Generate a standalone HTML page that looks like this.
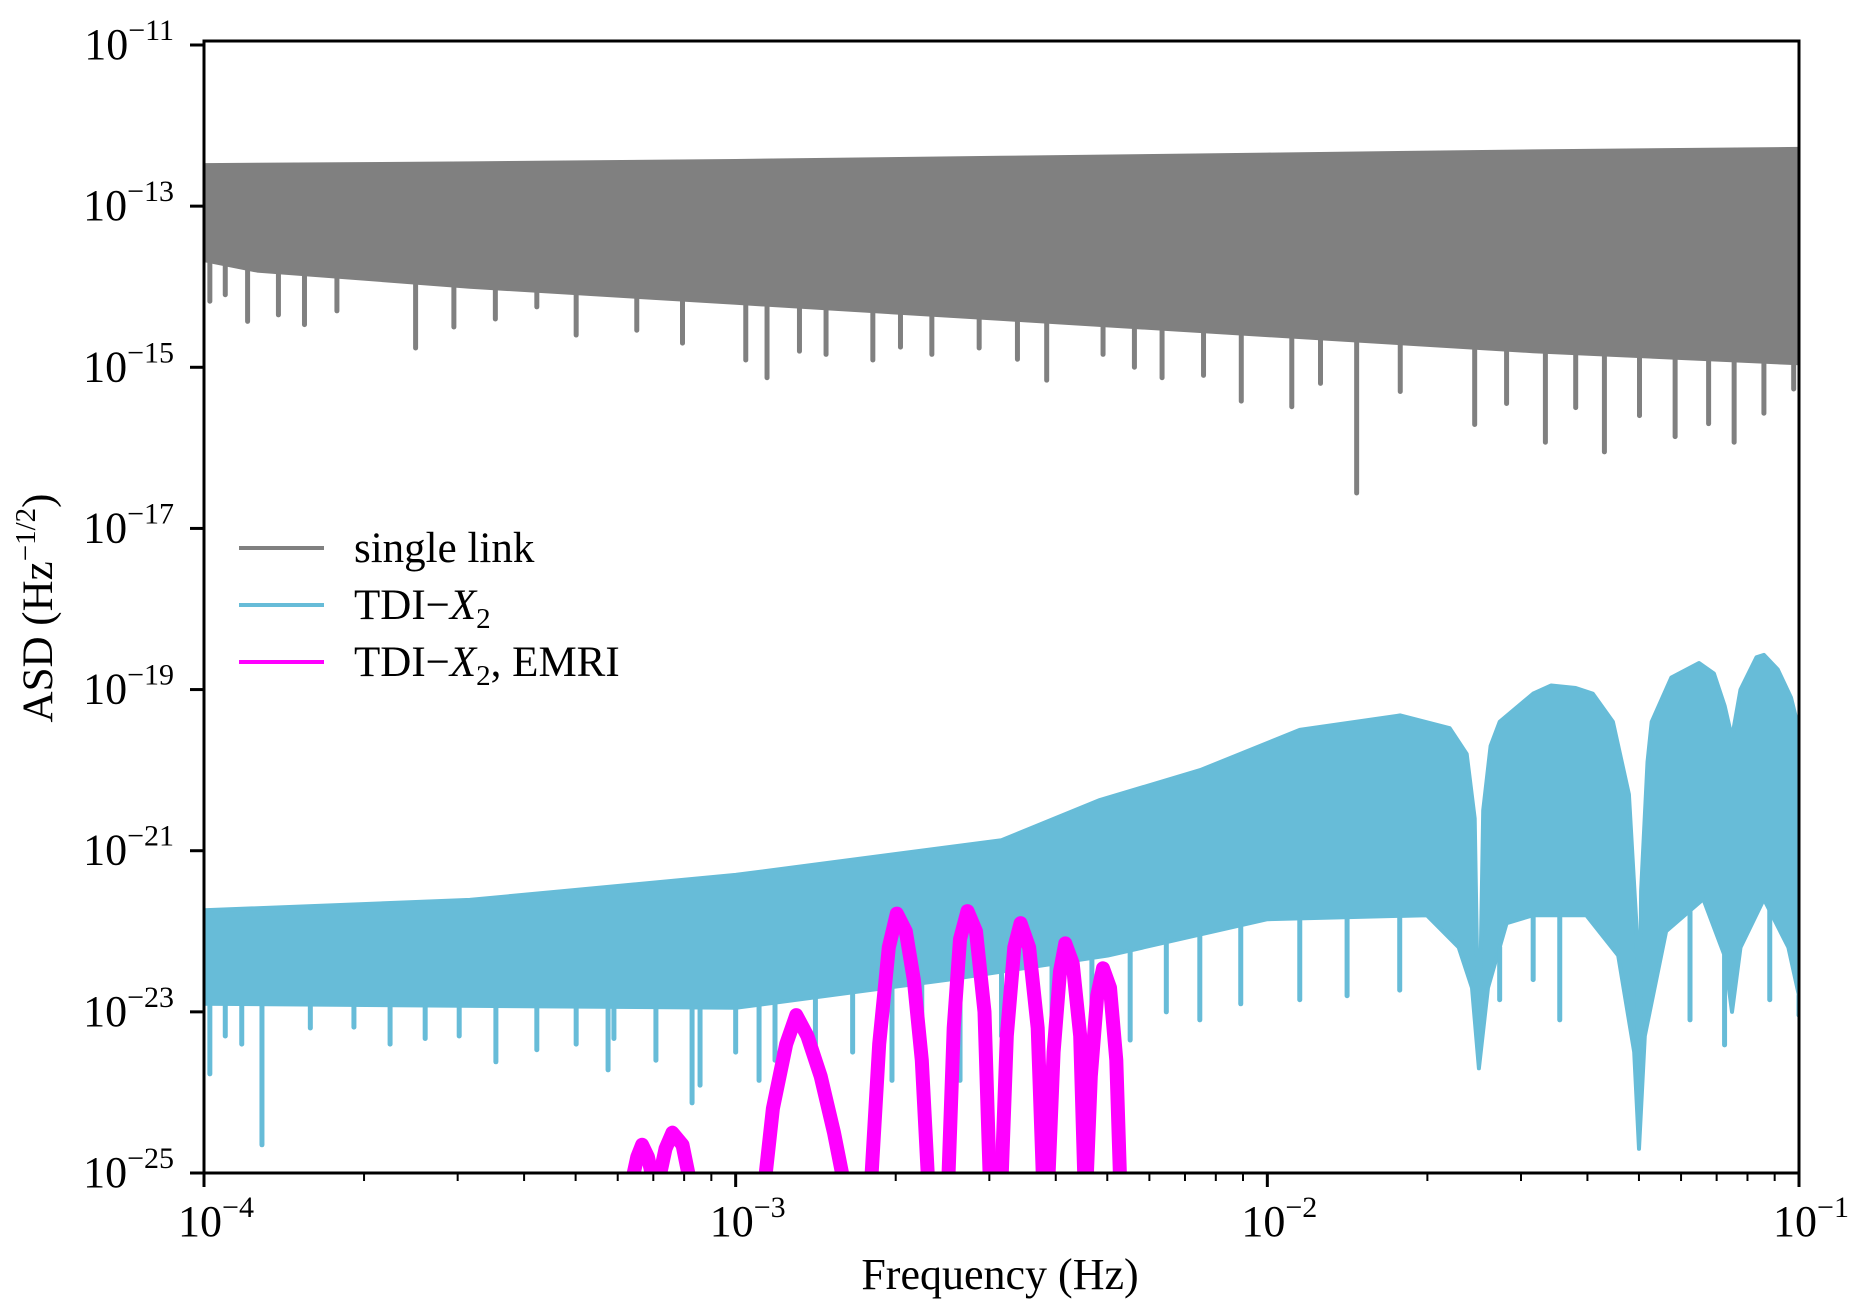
<!DOCTYPE html>
<html><head><meta charset="utf-8">
<style>
html,body{margin:0;padding:0;background:#fff;}
svg text{font-family:"Liberation Serif","DejaVu Serif",serif;fill:#000;}
</style></head>
<body>
<svg id="chart" width="1850" height="1308" viewBox="0 0 1850 1308" xmlns="http://www.w3.org/2000/svg">
<g id="plot"></g>
<g id="axes"></g>
</svg>
<script>
// ---- data (log10 frequency, log10 ASD) ----
const grayTopF = [-4, -3.5, -3, -2.5, -2, -1.5, -1];
const grayTopA = [-12.49, -12.47, -12.44, -12.4, -12.36, -12.32, -12.29];
const grayLowF = [-4, -3.9, -3.5, -3, -2.5, -2, -1.5, -1];
const grayLowA = [-13.67, -13.8, -14.0, -14.2, -14.4, -14.6, -14.8, -14.95];
const graySpikeF = [-3.989,-3.96,-3.918,-3.86,-3.811,-3.75,-3.602,-3.53,-3.452,-3.374,-3.3,-3.186,-3.1,-2.981,-2.941,-2.88,-2.83,-2.742,-2.69,-2.631,-2.542,-2.47,-2.415,-2.309,-2.25,-2.198,-2.12,-2.049,-1.954,-1.9,-1.832,-1.75,-1.61,-1.55,-1.477,-1.42,-1.366,-1.3,-1.233,-1.17,-1.122,-1.066,-1.01];
const graySpikeA = [-14.18,-14.1,-14.43,-14.35,-14.47,-14.3,-14.76,-14.5,-14.4,-14.25,-14.6,-14.54,-14.7,-14.91,-15.13,-14.8,-14.84,-14.91,-14.75,-14.84,-14.76,-14.9,-15.16,-14.84,-15.0,-15.13,-15.1,-15.42,-15.49,-15.2,-16.56,-15.3,-15.71,-15.45,-15.93,-15.5,-16.05,-15.6,-15.86,-15.7,-15.93,-15.57,-15.27];

const cyanTopF = [-4,-3.5,-3,-2.5,-2.315,-2.126,-1.939,-1.75,-1.657,-1.625,-1.61,-1.602,-1.594,-1.58,-1.563,-1.5,-1.466,-1.42,-1.388,-1.35,-1.32,-1.305,-1.301,-1.297,-1.285,-1.277,-1.24,-1.188,-1.16,-1.14,-1.126,-1.11,-1.08,-1.066,-1.04,-1.015,-1.0];
const cyanTopA = [-21.74,-21.61,-21.3,-20.87,-20.37,-20.0,-19.5,-19.32,-19.48,-19.8,-20.6,-23.7,-20.5,-19.7,-19.4,-19.05,-18.95,-18.98,-19.05,-19.4,-20.3,-22.0,-24.7,-21.5,-19.9,-19.4,-18.85,-18.67,-18.8,-19.2,-19.6,-19.0,-18.6,-18.57,-18.75,-19.1,-19.5];
const cyanLowF = [-4,-3,-2.6,-2.3,-2,-1.7,-1.64,-1.615,-1.602,-1.585,-1.55,-1.5,-1.4,-1.34,-1.31,-1.301,-1.29,-1.25,-1.18,-1.14,-1.126,-1.11,-1.066,-1.02,-1.0];
const cyanLowA = [-22.9,-22.95,-22.6,-22.3,-21.85,-21.8,-22.2,-22.7,-23.7,-22.7,-21.9,-21.8,-21.8,-22.3,-23.5,-24.7,-23.3,-22.0,-21.6,-22.3,-23.0,-22.2,-21.6,-22.2,-22.8];
const cyanSpikeF = [-3.989,-3.96,-3.929,-3.891,-3.8,-3.718,-3.65,-3.584,-3.52,-3.451,-3.374,-3.3,-3.24,-3.229,-3.15,-3.082,-3.067,-3.0,-2.956,-2.926,-2.85,-2.78,-2.706,-2.65,-2.578,-2.5,-2.405,-2.33,-2.258,-2.19,-2.127,-2.05,-1.939,-1.85,-1.751,-1.563,-1.5,-1.45,-1.205,-1.14,-1.055,-1.0];
const cyanSpikeA = [-23.77,-23.3,-23.4,-24.65,-23.2,-23.19,-23.4,-23.33,-23.3,-23.62,-23.47,-23.4,-23.72,-23.33,-23.6,-24.13,-23.91,-23.5,-23.85,-23.6,-23.4,-23.5,-23.85,-23.3,-23.85,-23.3,-23.85,-23.2,-23.35,-23.0,-23.1,-22.9,-22.85,-22.8,-22.73,-22.85,-22.6,-23.1,-23.1,-23.41,-22.85,-23.04];

// EMRI lumps
const emriF = [
  [-3.195,-3.185,-3.176,-3.165,-3.155],
  [-3.145,-3.132,-3.119,-3.1,-3.086],
  [-2.945,-2.93,-2.905,-2.886,-2.865,-2.84,-2.815,-2.797],
  [-2.745,-2.73,-2.712,-2.697,-2.68,-2.665,-2.65,-2.638],
  [-2.6,-2.59,-2.578,-2.564,-2.548,-2.532,-2.522],
  [-2.5,-2.49,-2.476,-2.464,-2.448,-2.432,-2.422],
  [-2.412,-2.402,-2.39,-2.38,-2.366,-2.352,-2.344],
  [-2.34,-2.332,-2.32,-2.309,-2.296,-2.284,-2.277]
];
const emriA = [
  [-25.1,-24.8,-24.65,-24.8,-25.1],
  [-25.1,-24.7,-24.5,-24.65,-25.1],
  [-25.1,-24.2,-23.4,-23.04,-23.3,-23.8,-24.5,-25.1],
  [-25.1,-23.4,-22.2,-21.78,-22.0,-22.6,-23.6,-25.1],
  [-25.1,-23.2,-22.1,-21.75,-22.0,-23.0,-25.1],
  [-25.1,-23.3,-22.2,-21.9,-22.2,-23.2,-25.1],
  [-25.1,-23.5,-22.5,-22.15,-22.4,-23.3,-25.1],
  [-25.1,-23.8,-22.8,-22.46,-22.7,-23.6,-25.1]
];

const yTicks = [-11,-13,-15,-17,-19,-21,-23,-25];
const xTicks = [-4,-3,-2,-1];

// ---- axes functions ----
const X0=204, X1=1799, Y0=45, Y1=1173;
function xs(lf){ return X0 + (lf+4)/3*(X1-X0); }
function ys(la){ return Y0 + (-11-la)/14*(Y1-Y0); }
const NS="http://www.w3.org/2000/svg";
const plot=document.getElementById('plot'), axes=document.getElementById('axes');
function mk(tag,attrs,parent){ const e=document.createElementNS(NS,tag); for(const k in attrs) e.setAttribute(k,attrs[k]); parent.appendChild(e); return e; }

const defs=mk('defs',{},document.getElementById('chart'));
const cp=mk('clipPath',{id:'clip'},defs);
mk('rect',{x:X0,y:Y0-4,width:X1-X0,height:Y1-Y0+4},cp);
plot.setAttribute('clip-path','url(#clip)');

function band(tf,ta,lf,la,color,name){
  let d='';
  tf.forEach((f,i)=>{ d+=(i?'L':'M')+xs(f).toFixed(1)+' '+ys(ta[i]).toFixed(1); });
  for(let i=lf.length-1;i>=0;i--) d+='L'+xs(lf[i]).toFixed(1)+' '+ys(la[i]).toFixed(1);
  d+='Z';
  const p=mk('path',{d:d,fill:color,stroke:color,'stroke-width':4,'stroke-linejoin':'round'},plot);
  
  
}
function interp(fs,as,f){
  for(let i=0;i<fs.length-1;i++){ if(f>=fs[i]&&f<=fs[i+1]){ const t=(f-fs[i])/(fs[i+1]-fs[i]); return as[i]+t*(as[i+1]-as[i]); } }
  return f<fs[0]?as[0]:as[as.length-1];
}
function spikes(sf,sa,lf,la,color,name){
  sf.forEach((f,i)=>{
    const l=mk('line',{x1:xs(f),x2:xs(f),y1:ys(interp(lf,la,f)),y2:ys(sa[i]),stroke:color,'stroke-width':5,'stroke-linecap':'round'},plot);
    
    
  });
}
band(grayTopF,grayTopA,grayLowF,grayLowA,'#808080','single-link-series');
spikes(graySpikeF,graySpikeA,grayLowF,grayLowA,'#808080','single-link-dip');
band(cyanTopF,cyanTopA,cyanLowF,cyanLowA,'#67bcd8','tdi-x2-series');
spikes(cyanSpikeF,cyanSpikeA,cyanLowF,cyanLowA,'#67bcd8','tdi-x2-dip');
emriF.forEach((fs,k)=>{
  let d='';
  fs.forEach((f,i)=>{ d+=(i?'L':'M')+xs(f).toFixed(1)+' '+ys(emriA[k][i]).toFixed(1); });
  const p=mk('path',{d:d,fill:'none',stroke:'#ff00ff','stroke-width':14,'stroke-linejoin':'round'},plot);
  
  
});

const fr=mk('rect',{x:X0,y:Y0-4,width:X1-X0,height:Y1-Y0+4,fill:'none',stroke:'#000','stroke-width':3},axes);



yTicks.forEach(v=>{
  const y=ys(v);
  const t=mk('line',{x1:X0-14,x2:X0,y1:y,y2:y,stroke:'#000','stroke-width':3},axes);
  
  
  const tx=mk('text',{x:174,y:y+14,'font-size':44,'text-anchor':'end'},axes);
  
  
  tx.innerHTML='10<tspan dy="-19" font-size="30">\u2212'+(-v)+'</tspan>';
});
xTicks.forEach((v,i)=>{
  const x=xs(v);
  const t=mk('line',{x1:x,x2:x,y1:Y1,y2:Y1+14,stroke:'#000','stroke-width':3},axes);
  
  
  const tx=mk('text',{x:x+12,y:1236,'font-size':44,'text-anchor':'middle'},axes);
  
  
  tx.innerHTML='10<tspan dy="-19" font-size="30">\u2212'+(-v)+'</tspan>';
  if(i<xTicks.length-1){
    for(let m=2;m<=9;m++){
      const xm=xs(v+Math.log10(m));
      const mt=mk('line',{x1:xm,x2:xm,y1:Y1,y2:Y1+8,stroke:'#000','stroke-width':2},axes);
      
      
    }
  }
});
</script>
<svg style="position:absolute;left:0;top:0" width="1850" height="1308">
<text x="1000" y="1289" font-size="44" text-anchor="middle" font-family="Liberation Serif, serif">Frequency (Hz)</text>
<text transform="translate(52,608) rotate(-90)" font-size="43" text-anchor="middle" font-family="Liberation Serif, serif">ASD (Hz<tspan dy="-17" font-size="29">−1/2</tspan><tspan dy="17">)</tspan></text>
<g font-family="Liberation Serif, serif" font-size="43">
<g>
<line x1="239" x2="324" y1="548" y2="548" stroke="#808080" stroke-width="4"/>
<text x="354" y="562">single link</text></g>
<g>
<line x1="239" x2="324" y1="605" y2="605" stroke="#67bcd8" stroke-width="4"/>
<text x="354" y="619">TDI−<tspan font-style="italic">X</tspan><tspan dy="9" font-size="29">2</tspan></text></g>
<g>
<line x1="239" x2="324" y1="662" y2="662" stroke="#ff00ff" stroke-width="4"/>
<text x="354" y="676">TDI−<tspan font-style="italic">X</tspan><tspan dy="9" font-size="29">2</tspan><tspan dy="-9">, EMRI</tspan></text></g>
</g>
</svg>
</body></html>
